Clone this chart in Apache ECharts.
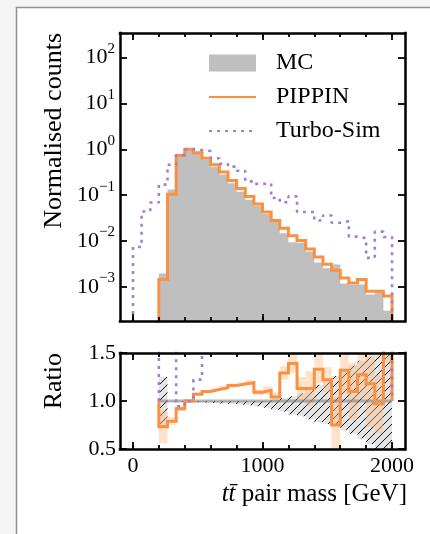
<!DOCTYPE html>
<html>
<head>
<meta charset="utf-8">
<script src="https://cdn.jsdelivr.net/npm/echarts@6/dist/echarts.min.js"></script>
<style>
  html, body { margin: 0; padding: 0; background: #f5f5f5; }
  #main { width: 430px; height: 534px; }
</style>
</head>
<body>
<div id="main"></div>
<script>
// 30 bins of 2000/30 GeV; MC and PIPPIN only fill from bin 3 (200 GeV)
var nBins = 30;
var firstBin = 3;
var edges = [];
for (var i = 0; i <= nBins; i++) edges.push(i * 2000 / nBins);

var mcCounts = [0.00197, 0.133, 0.793, 1.0, 0.785, 0.582, 0.411, 0.281, 0.181, 0.119,
  0.079, 0.0587, 0.0387, 0.0269, 0.0147, 0.00935, 0.00912, 0.00593, 0.00338, 0.00254,
  0.00307, 0.00119, 0.00111, 0.00113, 0.000678, 0.000825, 0.0003];
var pippinCounts = [0.00144, 0.105, 0.73, 1.0, 0.84, 0.64, 0.46, 0.32, 0.21, 0.14,
  0.094, 0.064, 0.043, 0.028, 0.019, 0.013, 0.0103, 0.0067, 0.0045, 0.0031,
  0.0023, 0.00157, 0.00122, 0.00144, 0.0008, 0.0008, 0.00063];
var turboCounts = [0.0074, 0.044, 0.069, 0.17, 0.46, 0.75, 1.0, 0.96, 0.92, 0.64,
  0.48, 0.42, 0.34, 0.20, 0.176, 0.18, 0.087, 0.07, 0.094, 0.043,
  0.043, 0.028, 0.036, 0.025, 0.027, 0.0125, 0.0115, 0.0043, 0.016, 0.0122];

// uncertainty bands in the ratio panel (per bin from 200 GeV)
var pippinRatioErr = [0.17, 0.04, 0.025, 0.02, 0.015, 0.015, 0.015, 0.02, 0.02, 0.02,
  0.025, 0.03, 0.04, 0.05, 0.07, 0.1, 0.12, 0.18, 0.15, 0.13,
  0.3, 0.25, 0.3, 0.25, 0.45, 0.3, 0.7];
var mcBandLow = [0.74, 0.995, 0.993, 0.99, 0.988, 0.985, 0.98, 0.975, 0.97, 0.962,
  0.955, 0.945, 0.93, 0.91, 0.89, 0.86, 0.84, 0.81, 0.78, 0.76,
  0.74, 0.70, 0.66, 0.61, 0.55, 0.48, 0.42];
var mcBandHigh = [1.25, 1.0, 1.0, 1.0, 1.0, 1.0, 1.0, 1.0, 1.0, 1.0,
  1.0, 1.0, 1.0, 1.01, 1.03, 1.05, 1.08, 1.12, 1.17, 1.21,
  1.26, 1.31, 1.37, 1.42, 1.46, 1.52, 1.58];

var xMajorTicks = [0, 1000, 2000];
var xMinorTicks = [0, 200, 400, 600, 800, 1000, 1200, 1400, 1600, 1800, 2000];
var yTicks = [1e-3, 1e-2, 1e-1, 1, 10, 100];
var ratioTicks = [0.5, 1.0, 1.5];

var xMin = -100, xMax = 2100;
var yMin = Math.pow(10, -3.744), yMax = Math.pow(10, 2.536);
var floor = 1e-9;

var serif = '"Liberation Serif", "DejaVu Serif", serif';
var orange = '#fb9140';
var purple = '#a07fd2';

var pippinRatio = pippinCounts.map(function (v, i) { return v / mcCounts[i]; });
var turboRatio = mcCounts.map(function (m, i) { return turboCounts[i + firstBin] / m; });
var mcRatio = mcCounts.map(function (m) { return m / m; });
var pippinLow = pippinRatio.map(function (r, i) { return r - pippinRatioErr[i]; });
var pippinHigh = pippinRatio.map(function (r, i) { return r + pippinRatioErr[i]; });
var mcFloor = mcCounts.map(function () { return yMin; });

function stairs(values, startBin, baseline) {
  var pts = [[edges[startBin], baseline]];
  values.forEach(function (v, i) {
    pts.push([edges[startBin + i], v], [edges[startBin + i + 1], v]);
  });
  pts.push([edges[startBin + values.length], baseline]);
  return pts;
}

function band(name, lows, highs, startBin, fill, xi, yi, z) {
  return {
    name: name, type: 'custom', xAxisIndex: xi, yAxisIndex: yi, clip: true, silent: true, z: z,
    itemStyle: { color: typeof fill === 'string' ? fill : '#ccc' },
    data: [0],
    renderItem: function (params, api) {
      var top = [], bottom = [];
      for (var i = 0; i < lows.length; i++) {
        var x0 = edges[startBin + i], x1 = edges[startBin + i + 1];
        top.push(api.coord([x0, highs[i]]), api.coord([x1, highs[i]]));
        bottom.unshift(api.coord([x1, lows[i]]), api.coord([x0, lows[i]]));
      }
      return { type: 'polygon', shape: { points: top.concat(bottom) }, style: { fill: fill, stroke: null } };
    }
  };
}

// hatch pattern for the MC band
var hatch = document.createElement('canvas');
hatch.width = 8; hatch.height = 8;
var hc = hatch.getContext('2d');
hc.fillStyle = 'rgba(200,200,200,0.5)';
hc.fillRect(0, 0, 8, 8);
hc.strokeStyle = '#111';
hc.lineWidth = 1;
hc.beginPath();
hc.moveTo(-1, 9); hc.lineTo(9, -1);
hc.moveTo(-1, 1); hc.lineTo(1, -1);
hc.moveTo(7, 9); hc.lineTo(9, 7);
hc.stroke();

var frameLine = { show: true, onZero: false, lineStyle: { color: '#000', width: 2.5, cap: 'square' } };
var tickStyle = { color: '#000', width: 1.8 };
var labelFont = { fontFamily: serif, fontSize: 22, color: '#000' };

function xAxesFor(grid, showLabels) {
  function ax(pos, ticks, len, line, labels) {
    return {
      type: 'value', gridIndex: grid, position: pos, min: xMin, max: xMax, z: 10,
      splitLine: { show: false },
      axisLine: line ? frameLine : { show: false, onZero: false },
      axisTick: { show: true, inside: true, length: len, customValues: ticks, lineStyle: tickStyle },
      axisLabel: labels ? Object.assign({
        show: true, customValues: xMajorTicks, margin: 6,
        formatter: function (v) { return String(v); }
      }, labelFont) : { show: false }
    };
  }
  return [
    ax('bottom', xMajorTicks, 7, true, showLabels),
    ax('top', xMajorTicks, 7, true, false),
    ax('bottom', xMinorTicks, 4, false, false),
    ax('top', xMinorTicks, 4, false, false)
  ];
}

function yAxesFor(grid, type, min, max, ticks, labelOpt) {
  function ax(pos, labels) {
    return {
      type: type, gridIndex: grid, position: pos, min: min, max: max, z: 10,
      splitLine: { show: false },
      axisLine: frameLine,
      axisTick: { show: true, inside: true, length: 7, customValues: ticks, lineStyle: tickStyle },
      axisLabel: labels ? Object.assign({ show: true, customValues: ticks }, labelOpt) : { show: false }
    };
  }
  return [ax('left', true), ax('right', false)];
}

var chart = echarts.init(document.getElementById('main'));
chart.setOption({
  animation: false,
  backgroundColor: 'transparent',
  grid: [
    { left: 120, top: 33, width: 285, height: 288 },
    { left: 120, top: 353, width: 285, height: 96 }
  ],
  xAxis: xAxesFor(0, false).concat(xAxesFor(1, true)),
  yAxis: yAxesFor(0, 'log', yMin, yMax, yTicks, {
    margin: 5,
    formatter: function (v) {
      var e = Math.round(Math.log10(v));
      return '{b|10}{s|' + (e < 0 ? '\u2212' + (-e) : e) + '}';
    },
    rich: {
      b: { fontFamily: serif, fontSize: 22, color: '#000' },
      s: { fontFamily: serif, fontSize: 15, lineHeight: 15, color: '#000', verticalAlign: 'bottom', padding: [0, 0, 12, 0] }
    }
  }).concat(yAxesFor(1, 'value', 0.5, 1.5, ratioTicks, Object.assign({
    margin: 4,
    formatter: function (v) { return v.toFixed(1); }
  }, labelFont))),
  legend: {
    orient: 'vertical', left: 208, top: 51, padding: 0,
    itemWidth: 47, itemHeight: 17, itemGap: 10, selectedMode: false,
    textStyle: { fontFamily: serif, fontSize: 24, color: '#000', padding: [0, 0, 0, 15] },
    data: [
      { name: 'MC', icon: 'rect' },
      { name: 'PIPPIN', itemStyle: { opacity: 0 } },
      { name: 'Turbo-Sim', itemStyle: { opacity: 0 } }
    ]
  },
  graphic: [
    { type: 'rect', z: -10, silent: true, shape: { x: 16.5, y: 7.5, width: 440, height: 560 },
      style: { fill: '#fff', stroke: '#8f8f8f', lineWidth: 1.5 } },
    { type: 'text', x: 54, y: 33, rotation: Math.PI / 2,
      style: { text: 'Normalised counts', fontFamily: serif, fontSize: 26, fill: '#000', align: 'right', verticalAlign: 'middle' } },
    { type: 'text', x: 54, y: 353, rotation: Math.PI / 2,
      style: { text: 'Ratio', fontFamily: serif, fontSize: 26, fill: '#000', align: 'right', verticalAlign: 'middle' } },
    { type: 'text', x: 407, y: 494,
      style: { text: '{i|tt\u0304} pair mass [GeV]', fontFamily: serif, fontSize: 25, fill: '#000', align: 'right', verticalAlign: 'middle',
        rich: { i: { fontFamily: serif, fontSize: 25, fontStyle: 'italic', fill: '#000' } } } }
  ],
  series: [
    band('MC', mcFloor, mcCounts, firstBin, '#bfbfbf', 0, 0, 1),
    {
      name: 'PIPPIN', type: 'line', xAxisIndex: 0, yAxisIndex: 0, z: 3,
      data: stairs(pippinCounts, firstBin, floor), symbol: 'none', clip: true,
      itemStyle: { color: orange },
      lineStyle: { color: orange, width: 3, join: 'miter' }
    },
    {
      name: 'Turbo-Sim', type: 'line', xAxisIndex: 0, yAxisIndex: 0, z: 4,
      data: stairs(turboCounts, 0, floor), symbol: 'none', clip: true,
      itemStyle: { color: purple },
      lineStyle: { color: purple, width: 2.6, type: [3, 5], cap: 'butt' }
    },
    band('MC unc.', mcBandLow, mcBandHigh, firstBin, { image: hatch, repeat: 'repeat' }, 4, 2, 1),
    band('PIPPIN unc.', pippinLow, pippinHigh, firstBin, 'rgba(255,186,130,0.42)', 4, 2, 2),
    {
      name: 'MC ratio', type: 'line', xAxisIndex: 4, yAxisIndex: 2, z: 3,
      data: stairs(mcRatio, firstBin, 1), symbol: 'none', clip: true,
      lineStyle: { color: 'rgba(120,120,120,0.55)', width: 3 }
    },
    {
      name: 'PIPPIN ratio', type: 'line', xAxisIndex: 4, yAxisIndex: 2, z: 4,
      data: stairs(pippinRatio, firstBin, 1), symbol: 'none', clip: true,
      lineStyle: { color: orange, width: 3, join: 'miter' }
    },
    {
      name: 'Turbo-Sim ratio', type: 'line', xAxisIndex: 4, yAxisIndex: 2, z: 5,
      data: stairs(turboRatio, firstBin, 1), symbol: 'none', clip: true,
      lineStyle: { color: purple, width: 2.6, type: [3, 5], cap: 'butt' }
    }
  ]
});
</script>
</body>
</html>
